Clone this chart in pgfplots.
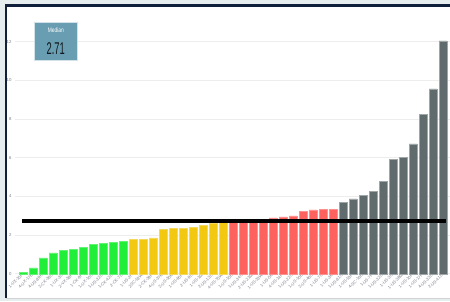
\documentclass[border=0pt]{standalone}
\usepackage{pgfplots}
\pgfplotsset{compat=1.18}
\usepackage{graphicx}
\usepackage{fontspec}
\setmainfont{Liberation Sans}
\definecolor{bgout}{RGB}{229,237,239}
\definecolor{navy}{RGB}{16,32,58}
\definecolor{cgreen}{RGB}{32,238,56}
\definecolor{cyellow}{RGB}{242,200,17}
\definecolor{cred}{RGB}{253,98,94}
\definecolor{cgray}{RGB}{95,107,109}
\definecolor{card}{RGB}{104,157,178}
\definecolor{ticktext}{RGB}{120,126,138}
\begin{document}
\begin{tikzpicture}[x=1pt,y=1pt]
\useasboundingbox (0,0) rectangle (450,301);
\fill[bgout] (0,0) rectangle (450,301);
\fill[white] (6,3.5) rectangle (450,295);
\draw[gray!35, line width=1pt] (6,3) -- (450,3);
\draw[navy, line width=2.5pt] (6.2,3.5) -- (6.2,296.2);
\draw[navy, line width=2.5pt] (5,295.3) -- (450,295.3);
\begin{axis}[
  at={(15pt,27.2pt)}, anchor=south west,
  scale only axis, width=435pt, height=241.9pt,
  xmin=0.2, xmax=43.7, ymin=0, ymax=12.5,
  axis line style={draw=none}, tick style={draw=none},
  ymajorgrids, major grid style={color=gray!14, line width=0.8pt},
  ytick={0,2,4,6,8,10,12},
  yticklabel style={font=\fontsize{4.3}{4.5}\selectfont, text=ticktext},
  /pgf/number format/assume math mode=true,
  xtick={1,...,43},
  xticklabels={1-UX-15F,4-UX-17E,4-US-89R,2-CK-36S,1-UX-3S,2-VX-38P,1-CK-9P,1-UX-10S,1-US-32D,1-CK-42D,2-CK-7D,1-US-2P,2SC-52W,2-CK-39F,4-US-37K,2-US-30K,1-US-60F,2-US-9D,1-US-1M,2-US-13D,4-US-75W,1-US-15B,1-US-34C,2-US-21M,1-US-33W,1-US-5K,4-US-14F,1-US-22C,1-US-10E,2-US-46S,1-US-7N,1-US-3K,1-US-81C,1-US-53F,4-SC-16B,1-US-7F,1-US-32D,1-US-3C,1-US-38M,1-US-10F,1-US-17F,4-US-33D,2-US-41D},
  xticklabel style={font=\fontsize{4.2}{4.5}\selectfont, text=ticktext, rotate=45, anchor=east, inner sep=1pt},
  clip=false,
]
\addplot[ybar, bar width=7.6pt, fill=cgreen, draw=cgreen!70!white, line width=0.3pt] coordinates {
(1,0.08) (2,0.30) (3,0.82) (4,1.08) (5,1.20) (6,1.27) (7,1.36) (8,1.53) (9,1.57) (10,1.62) (11,1.68)};
\addplot[ybar, bar width=7.6pt, fill=cyellow, draw=cyellow!70!white, line width=0.3pt] coordinates {
(12,1.79) (13,1.79) (14,1.86) (15,2.29) (16,2.34) (17,2.35) (18,2.41) (19,2.51) (20,2.60) (21,2.66)};
\addplot[ybar, bar width=7.6pt, fill=cred, draw=cred!70!white, line width=0.3pt] coordinates {
(22,2.71) (23,2.72) (24,2.76) (25,2.82) (26,2.89) (27,2.94) (28,2.99) (29,3.22) (30,3.30) (31,3.32) (32,3.33)};
\addplot[ybar, bar width=7.6pt, fill=cgray, draw=cgray!60!white, line width=0.3pt] coordinates {
(33,3.68) (34,3.87) (35,4.07) (36,4.26) (37,4.79) (38,5.93) (39,6.02) (40,6.72) (41,8.25) (42,9.56) (43,12.03)};
\addplot[black, line width=4pt, mark=none] coordinates {(0.9,2.71) (43.3,2.71)};
\end{axis}
\fill[card] (34,240.7) rectangle (77.5,279);
\draw[white!70!card, line width=0.5pt] (34,240.7) rectangle (77.5,279);
\node[text=white, font=\fontsize{6.5}{7}\selectfont, inner sep=0pt] at (55.8,271) {\scalebox{0.75}[1]{Median}};
\node[text=black!85!card, font=\fontsize{17}{18}\selectfont, inner sep=0pt] at (55.8,252) {\scalebox{0.55}[1]{2.71}};
\end{tikzpicture}
\end{document}
